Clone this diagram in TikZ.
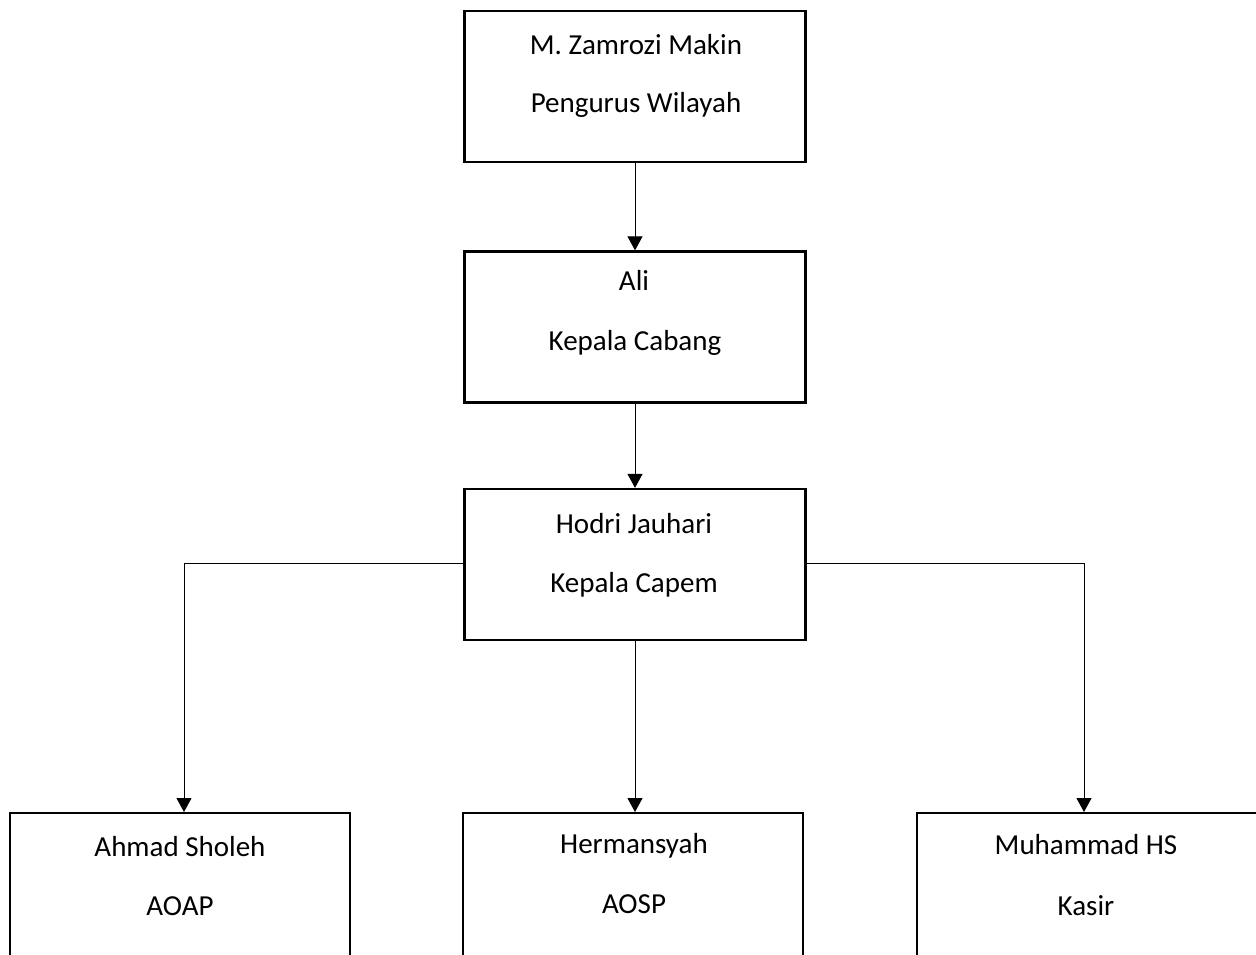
\documentclass[tikz,border=0pt]{standalone}
\usepackage{fontspec}
\setmainfont{Carlito}
\usetikzlibrary{arrows.meta}
\begin{document}
\begin{tikzpicture}[x=1pt,y=-1pt,
  box/.style={draw=black,line width=2.3pt,rectangle,minimum width=341pt,minimum height=151pt,inner sep=0pt,fill=white},
  sbox/.style={box,minimum width=340pt,minimum height=160pt},
  txt/.style={anchor=base,inner sep=0pt,font=\fontsize{29}{35}\selectfont},
  arr/.style={draw=black,line width=1pt,-{Triangle[width=15pt,length=14pt]}},
  conn/.style={draw=black,line width=1pt}]
\useasboundingbox (0,0) rectangle (1256,955);
\clip (0,0) rectangle (1256,955);
% boxes
\node[box] (top) at (635,86.5) {};
\node[box] (ali) at (635,327) {};
\node[box] (hod) at (635,564.5) {};
\node[sbox,anchor=north] (b1) at (180,812) {};
\node[sbox,anchor=north] (b2) at (633,812) {};
\node[sbox,anchor=north west,minimum width=350pt] (b3) at (916,812) {};
% texts
\node[txt] (t1a) at (636,55) {M. Zamrozi Makin};
\node[txt] (t1b) at (636,113) {Pengurus Wilayah};
\node[txt] (t2a) at (634,290) {Ali};
\node[txt] (t2b) at (635,350) {Kepala Cabang};
\node[txt] (t3a) at (634,533) {Hodri Jauhari};
\node[txt] (t3b) at (634,592) {Kepala Capem};
\node[txt] (t4a) at (180,856) {Ahmad Sholeh};
\node[txt] (t4b) at (180,915) {AOAP};
\node[txt] (t5a) at (634,853) {Hermansyah};
\node[txt] (t5b) at (634,913) {AOSP};
\node[txt] (t6a) at (1086,854) {Muhammad HS};
\node[txt] (t6b) at (1086,915) {Kasir};
% connectors
\draw[arr] (top.south) -- (ali.north);
\draw[arr] (ali.south) -- (hod.north);
\draw[arr] (hod.south) -- (hod.south |- b2.north);
\coordinate (jl) at (184,563);
\coordinate (jr) at (1084,563);
\draw[conn] (hod.west |- jl) -- (jl);
\draw[arr] (jl) -- (jl |- b1.north);
\draw[conn] (hod.east |- jr) -- (jr);
\draw[arr] (jr) -- (jr |- b3.north);
\end{tikzpicture}
\end{document}
